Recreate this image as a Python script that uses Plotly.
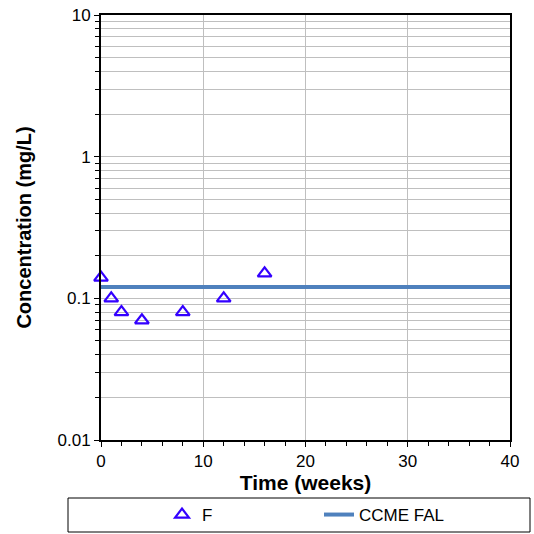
import plotly.graph_objects as go

weeks = [0, 1, 2, 4, 8, 12, 16]
f_conc = [0.14, 0.10, 0.08, 0.07, 0.08, 0.10, 0.15]
fal_x = [0, 40]
fal_y = [0.12, 0.12]

W, H = 534, 534
L, R, T, B = 101, 510, 15, 440

fig = go.Figure()
fig.add_trace(go.Scatter(x=weeks, y=f_conc, mode="markers", name="F",
                         marker=dict(symbol="triangle-up-open", size=12, color="#3300FF",
                                     line=dict(width=2.2, color="#3300FF")),
                         cliponaxis=False))
fig.add_trace(go.Scatter(x=fal_x, y=fal_y, mode="lines", name="CCME FAL",
                         line=dict(color="#4F81BD", width=4)))

fig.update_layout(
    width=W, height=H,
    margin=dict(l=L, r=W - R, t=T, b=H - B, autoexpand=False),
    paper_bgcolor="white", plot_bgcolor="white",
    font=dict(family="Liberation Sans, Arial", size=17, color="black"),
    showlegend=True,
    legend=dict(orientation="h", xref="container", yref="container",
                x=162 / W, xanchor="left",
                y=(H - 515) / H, yanchor="middle",
                bgcolor="rgba(0,0,0,0)", borderwidth=0,
                entrywidth=112, font=dict(size=17)),
    shapes=[dict(type="rect", xref="paper", yref="paper",
                 x0=(68 - L) / (R - L), x1=(530 - L) / (R - L),
                 y0=(B - 532) / (B - T), y1=(B - 498) / (B - T),
                 line=dict(color="black", width=1))],
)
fig.update_xaxes(range=[0, 40], dtick=10, showgrid=True, gridcolor="#BFBFBF", gridwidth=1,
                 ticks="outside", ticklen=5, tickcolor="black", automargin=False,
                 minor=dict(dtick=2, ticks="outside", ticklen=4, tickcolor="black", showgrid=False),
                 showline=True, linecolor="black", linewidth=2, mirror=True, zeroline=False,
                 title=dict(text="<b>Time (weeks)</b>", font=dict(size=21), standoff=0))
fig.update_yaxes(type="log", range=[-2, 1], showgrid=True, gridcolor="#BFBFBF", gridwidth=1,
                 ticks="outside", ticklen=5, tickcolor="black", automargin=False,
                 tickvals=[0.01, 0.1, 1, 10], ticktext=["0.01", "0.1", "1", "10"],
                 minor=dict(dtick="D1", ticks="outside", ticklen=4, tickcolor="black",
                            showgrid=True, gridcolor="#BFBFBF", gridwidth=1),
                 showline=True, linecolor="black", linewidth=2, mirror=True, zeroline=False,
                 title=dict(text="<b>Concentration (mg/L)</b>", font=dict(size=20), standoff=21))

fig.write_html("out.html", config={"displayModeBar": False},
               post_script="document.body.style.margin='0';")
